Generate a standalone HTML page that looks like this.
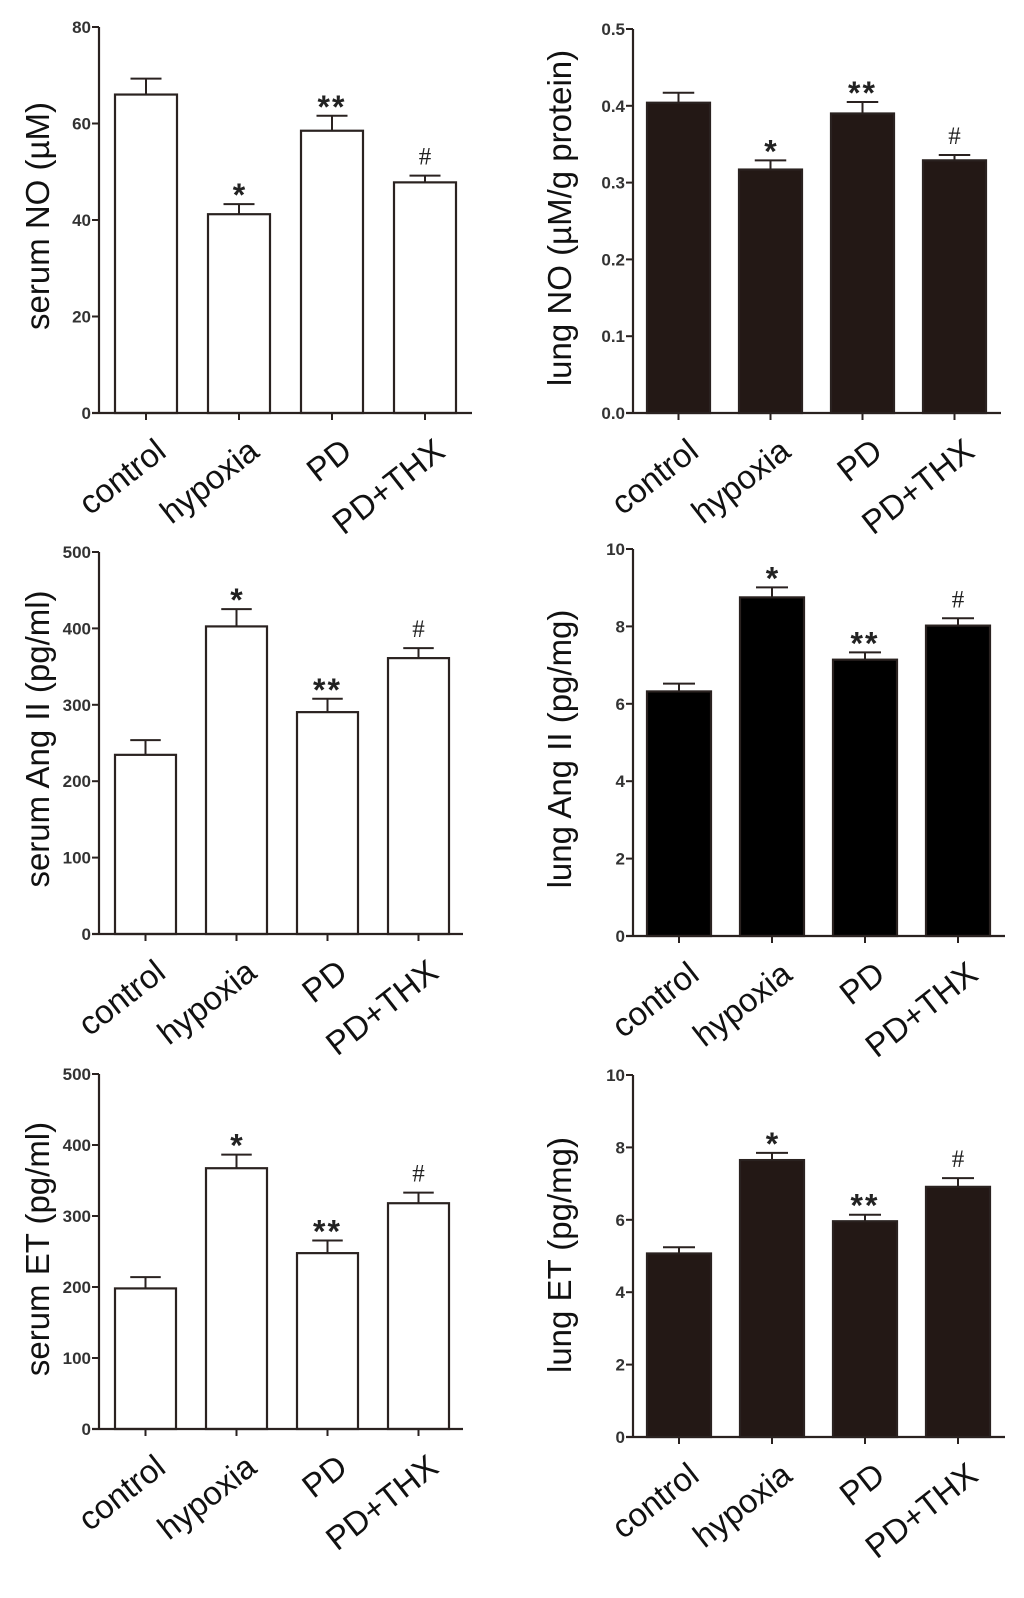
<!DOCTYPE html>
<html><head><meta charset="utf-8"><style>
html,body{margin:0;padding:0;background:#fff;}
svg{display:block;}
</style></head><body>
<svg id="fig" width="1024" height="1598" viewBox="0 0 1024 1598" xmlns="http://www.w3.org/2000/svg"></svg>
<script>
const categories = ["control", "hypoxia", "PD", "PD+THX"];
const marks = ["", "*", "**", "#"];

const serumNO = [66, 41.2, 58.5, 47.8];
const serumNOErr = [3.3, 2.1, 3.1, 1.4];
const serumNOTicks = ["0", "20", "40", "60", "80"];

const lungNO = [0.404, 0.317, 0.390, 0.329];
const lungNOErr = [0.013, 0.012, 0.015, 0.007];
const lungNOTicks = ["0.0", "0.1", "0.2", "0.3", "0.4", "0.5"];

const serumAng = [234.5, 402.6, 290.4, 361.1];
const serumAngErr = [19.2, 22.7, 17.5, 13.1];
const serumAngTicks = ["0", "100", "200", "300", "400", "500"];

const lungAng = [6.32, 8.75, 7.14, 8.02];
const lungAngErr = [0.2, 0.26, 0.19, 0.19];
const lungAngTicks = ["0", "2", "4", "6", "8", "10"];

const serumET = [198, 367.3, 247.7, 318];
const serumETErr = [15.9, 19.2, 17.8, 15];
const serumETTicks = ["0", "100", "200", "300", "400", "500"];

const lungET = [5.07, 7.65, 5.96, 6.91];
const lungETErr = [0.17, 0.2, 0.18, 0.24];
const lungETTicks = ["0", "2", "4", "6", "8", "10"];

const NS = "http://www.w3.org/2000/svg";
const svg = document.getElementById("fig");
function mk(tag, attrs, parent) {
  const e = document.createElementNS(NS, tag);
  for (const k in attrs) e.setAttribute(k, attrs[k]);
  (parent || svg).appendChild(e);
  return e;
}

function panel(o) {
  const g = mk("g", {});
  
  
  const ink = "#2a2220";
  const maxV = parseFloat(o.ticks[o.ticks.length - 1]);
  const y = v => o.zero - (v / maxV) * (o.zero - o.top);
  const step = (o.bars[1] - o.bars[0]);
  const xc = i => o.bars[0] + o.bw / 2 + i * step;
  o.values.forEach((v, i) => {
    const x0 = xc(i) - o.bw / 2;
    const eTop = y(v + o.errs[i]);
    const el = mk("line", {x1: xc(i), x2: xc(i), y1: y(v), y2: eTop, stroke: ink, "stroke-width": 2}, g);
    
    
    const cap = mk("line", {x1: xc(i) - o.bw / 4, x2: xc(i) + o.bw / 4, y1: eTop, y2: eTop, stroke: ink, "stroke-width": 2}, g);
    
    
    const r = mk("rect", {x: x0, y: y(v), width: o.bw, height: o.zero - y(v), fill: o.fill, stroke: ink, "stroke-width": 2.2}, g);
    
    
    if (marks[i]) {
      const serif = marks[i] === "#";
      const t = mk("text", {x: xc(i), y: serif ? eTop - 11 : eTop + 2, "text-anchor": "middle",
        "font-family": serif ? "Liberation Serif, serif" : "Liberation Sans, sans-serif",
        "font-size": serif ? 25 : 32, "font-weight": serif ? "normal" : "bold",
        "letter-spacing": marks[i] === "**" ? 2 : 0, fill: "#222"}, g);
      t.textContent = marks[i];
      
      
    }
    const tk = mk("line", {x1: xc(i), x2: xc(i), y1: o.zero, y2: o.zero + 7, stroke: ink, "stroke-width": 2}, g);
    
    
    const lx = xc(i) + 22, ly = o.zero + 42;
    const lt = mk("text", {x: lx, y: ly, "text-anchor": "end", "font-family": "Liberation Sans, sans-serif",
      "font-size": 33, fill: "#111", transform: `rotate(-38 ${lx} ${ly})`}, g);
    lt.textContent = categories[i];
    
    
  });
  const ya = mk("line", {x1: o.ax, x2: o.ax, y1: o.top, y2: o.zero + 1, stroke: ink, "stroke-width": 2.2}, g);
  
  
  const xa = mk("line", {x1: o.ax - 7, x2: o.right, y1: o.zero, y2: o.zero, stroke: ink, "stroke-width": 2.2}, g);
  
  
  o.ticks.forEach(tv => {
    const ty = y(parseFloat(tv));
    const tl = mk("line", {x1: o.ax - 7, x2: o.ax, y1: ty, y2: ty, stroke: ink, "stroke-width": 2}, g);
    
    
    const tt = mk("text", {x: o.ax - 8, y: ty + 6, "text-anchor": "end", "font-family": "Liberation Sans, sans-serif",
      "font-weight": "bold", "font-size": 17, fill: "#333"}, g);
    tt.textContent = tv;
    
    
  });
  const ti = mk("text", {x: o.tx, y: o.ty, "text-anchor": "middle", "font-family": "Liberation Sans, sans-serif",
    "font-size": 33, fill: "#111", transform: `rotate(-90 ${o.tx} ${o.ty})`}, g);
  ti.textContent = o.title;
  
  
}

panel({name: "serum-no-chart", values: serumNO, errs: serumNOErr, ticks: serumNOTicks, title: "serum NO (µM)",
  ax: 99, top: 27, zero: 413, right: 472, bars: [115, 208], bw: 62, fill: "#fff", tx: 49, ty: 216});
panel({name: "lung-no-chart", values: lungNO, errs: lungNOErr, ticks: lungNOTicks, title: "lung NO (µM/g protein)",
  ax: 633, top: 29, zero: 413, right: 1001, bars: [647, 739], bw: 63, fill: "#231815", tx: 571, ty: 218});
panel({name: "serum-ang-ii-chart", values: serumAng, errs: serumAngErr, ticks: serumAngTicks, title: "serum Ang II (pg/ml)",
  ax: 99, top: 552, zero: 934, right: 463, bars: [115, 206], bw: 61, fill: "#fff", tx: 49, ty: 739});
panel({name: "lung-ang-ii-chart", values: lungAng, errs: lungAngErr, ticks: lungAngTicks, title: "lung Ang II (pg/mg)",
  ax: 633, top: 549, zero: 936, right: 1005, bars: [647, 740], bw: 64, fill: "#000", tx: 571, ty: 749});
panel({name: "serum-et-chart", values: serumET, errs: serumETErr, ticks: serumETTicks, title: "serum ET (pg/ml)",
  ax: 99, top: 1074, zero: 1429, right: 463, bars: [115, 206], bw: 61, fill: "#fff", tx: 49, ty: 1249});
panel({name: "lung-et-chart", values: lungET, errs: lungETErr, ticks: lungETTicks, title: "lung ET (pg/mg)",
  ax: 633, top: 1075, zero: 1437, right: 1005, bars: [647, 740], bw: 64, fill: "#231815", tx: 571, ty: 1255});
</script>
</body></html>
